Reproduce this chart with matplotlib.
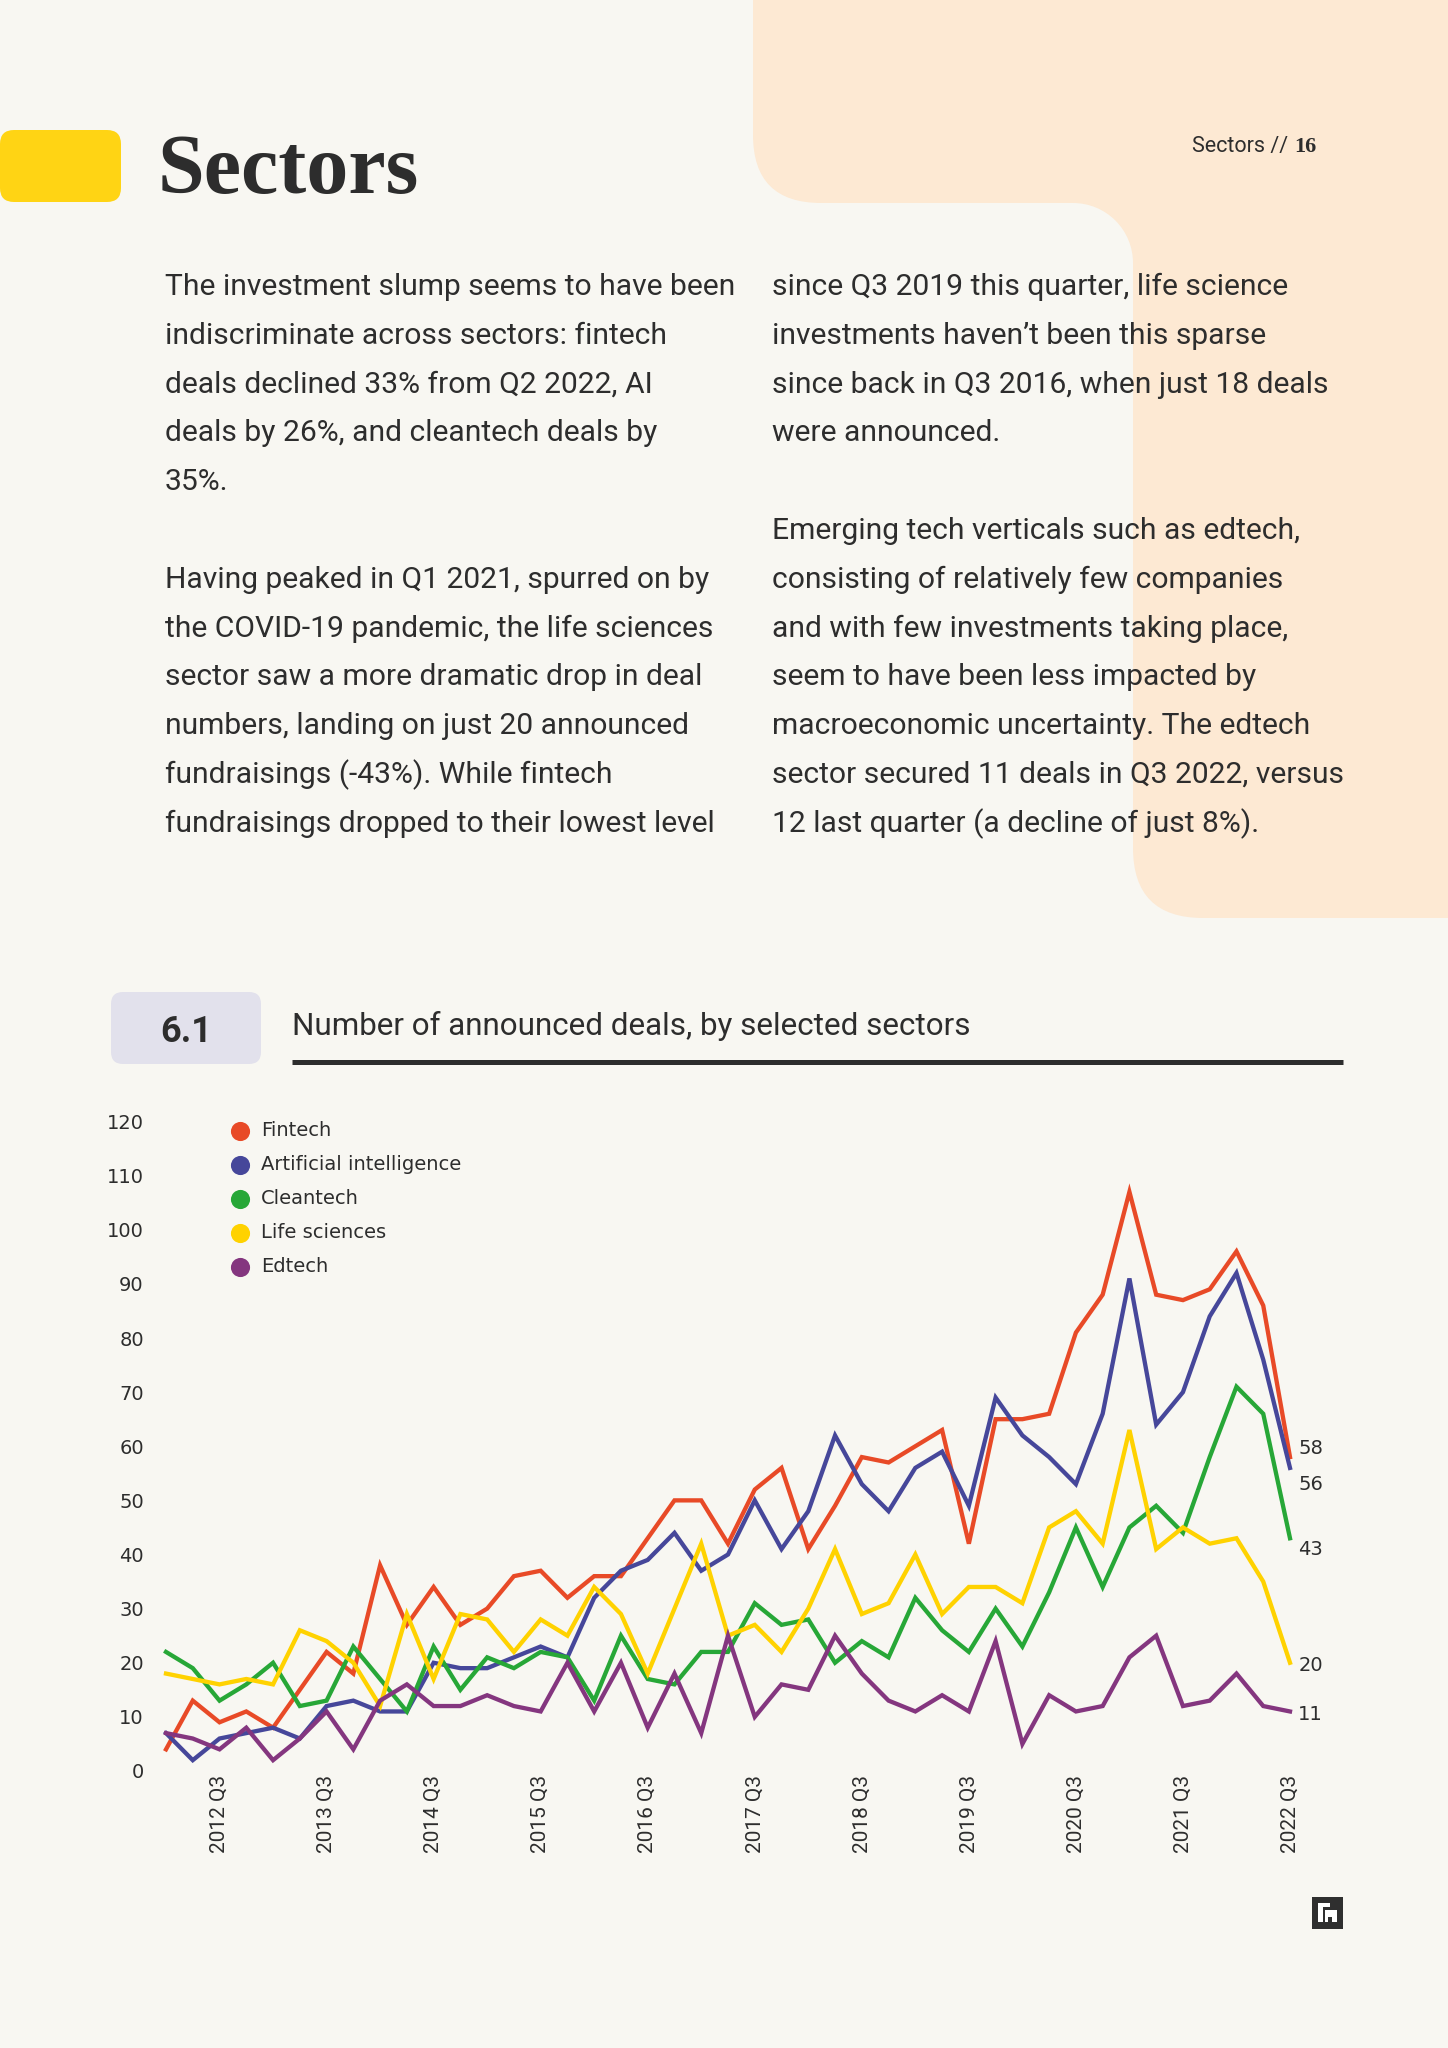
import numpy as np
import matplotlib
matplotlib.use("Agg")
from matplotlib import pyplot as plt
from matplotlib import font_manager
from matplotlib.patches import FancyBboxPatch, Rectangle, Circle


quarters = [f"{y} Q{q}" for y in range(2012, 2023) for q in range(1, 5)][:43]

fintech = [4, 13, 9, 11, 8, 15, 22, 18, 38, 27, 34, 27, 30, 36, 37, 32, 36,
           36, 43, 50, 50, 42, 52, 56, 41, 49, 58, 57, 60, 63, 42, 65,
           65, 66, 81, 88, 107, 88, 87, 89, 96, 86, 58]
ai = [7, 2, 6, 7, 8, 6, 12, 13, 11, 11, 20, 19, 19, 21, 23, 21, 32,
      37, 39, 44, 37, 40, 50, 41, 48, 62, 53, 48, 56, 59, 49, 69,
      62, 58, 53, 66, 91, 64, 70, 84, 92, 76, 56]
cleantech = [22, 19, 13, 16, 20, 12, 13, 23, 17, 11, 23, 15, 21, 19, 22, 21, 13,
             25, 17, 16, 22, 22, 31, 27, 28, 20, 24, 21, 32, 26, 22, 30,
             23, 33, 45, 34, 45, 49, 44, 58, 71, 66, 43]
life_sciences = [18, 17, 16, 17, 16, 26, 24, 20, 12, 29, 17, 29, 28, 22, 28, 25, 34,
                 29, 18, 30, 42, 25, 27, 22, 30, 41, 29, 31, 40, 29, 34, 34,
                 31, 45, 48, 42, 63, 41, 45, 42, 43, 35, 20]
edtech = [7, 6, 4, 8, 2, 6, 11, 4, 13, 16, 12, 12, 14, 12, 11, 20, 11,
          20, 8, 18, 7, 25, 10, 16, 15, 25, 18, 13, 11, 14, 11, 24,
          5, 14, 11, 12, 21, 25, 12, 13, 18, 12, 11]

series_names = ["Fintech", "Artificial intelligence", "Cleantech", "Life sciences", "Edtech"]
series_values = [fintech, ai, cleantech, life_sciences, edtech]
series_colors = ["#e84a27", "#46479a", "#27a737", "#ffd200", "#84367f"]
# end label nudges (points), to keep the last-value labels apart
end_label_dy = [6, -12, -8, -2, -2]

left_lines = [
    "The investment slump seems to have been",
    "indiscriminate across sectors: fintech",
    "deals declined 33% from Q2 2022, AI",
    "deals by 26%, and cleantech deals by",
    "35%.",
    "",
    "Having peaked in Q1 2021, spurred on by",
    "the COVID-19 pandemic, the life sciences",
    "sector saw a more dramatic drop in deal",
    "numbers, landing on just 20 announced",
    "fundraisings (-43%). While fintech",
    "fundraisings dropped to their lowest level",
]
right_lines = [
    "since Q3 2019 this quarter, life science",
    "investments haven\u2019t been this sparse",
    "since back in Q3 2016, when just 18 deals",
    "were announced.",
    "",
    "Emerging tech verticals such as edtech,",
    "consisting of relatively few companies",
    "and with few investments taking place,",
    "seem to have been less impacted by",
    "macroeconomic uncertainty. The edtech",
    "sector secured 11 deals in Q3 2022, versus",
    "12 last quarter (a decline of just 8%).",
]

BG = "#f8f7f2"
PEACH = "#fde9d3"
INK = "#2d2d2d"

available = {f.name for f in font_manager.fontManager.ttflist}
body_font = "Roboto" if "Roboto" in available else "DejaVu Sans"
chart_font = "DejaVu Sans"
title_font = "Liberation Serif" if "Liberation Serif" in available else "DejaVu Serif"

fig = plt.figure(figsize=(14.48, 20.48), dpi=100, facecolor=BG)

# page layer in pixel coordinates (y down)
page = fig.add_axes([0, 0, 1, 1])
page.set_xlim(0, 1448)
page.set_ylim(2048, 0)
page.axis("off")

page.add_patch(FancyBboxPatch((753, -200), 900, 403,
                              boxstyle="round,pad=0,rounding_size=68", fc=PEACH, ec="none"))
page.add_patch(FancyBboxPatch((1133, -200), 500, 1118,
                              boxstyle="round,pad=0,rounding_size=70", fc=PEACH, ec="none"))
page.add_patch(Rectangle((1073, 203), 60, 60, fc=PEACH, ec="none"))
page.add_patch(Circle((1073, 263), 60, fc=BG, ec="none"))

# header
page.add_patch(FancyBboxPatch((0, 130), 121, 72,
                              boxstyle="round,pad=0,rounding_size=14", fc="#ffd414", ec="none"))
page.text(158, 193, "Sectors", fontsize=60.5, fontweight="bold", family=title_font,
          color=INK, va="baseline")
page.text(1288, 152, "Sectors //", fontsize=15.5, family=body_font, color=INK,
          ha="right", va="baseline")
page.text(1317, 152, "16", fontsize=16, family=title_font, fontweight="bold",
          color=INK, ha="right", va="baseline")

for k, line in enumerate(left_lines):
    page.text(165, 295 + 48.8 * k, line, fontsize=21.6, family=body_font,
              color=INK, va="baseline")
for k, line in enumerate(right_lines):
    page.text(772, 295 + 48.8 * k, line, fontsize=21.6, family=body_font,
              color=INK, va="baseline")

# chart header
page.add_patch(FancyBboxPatch((111, 992), 150, 72,
                              boxstyle="round,pad=0,rounding_size=12", fc="#e2e1ec", ec="none"))
page.text(186, 1042, "6.1", fontsize=26, fontweight="bold", family=body_font,
          color=INK, ha="center", va="baseline")
page.text(292, 1035, "Number of announced deals, by selected sectors", fontsize=22.6,
          family=body_font, color=INK, va="baseline")
page.plot([292, 1343], [1062, 1062], color=INK, lw=3.6, solid_capstyle="butt")

# legend
for k, (name, color) in enumerate(zip(series_names, series_colors)):
    yy = 1131 + 34 * k
    page.scatter([240], [yy], s=190, color=color, linewidths=0)
    page.text(261, yy, name, fontsize=14, family=chart_font, color=INK, va="center")

# logo
page.add_patch(Rectangle((1312, 1897), 31, 32, fc="#2f2f2f", ec="none"))
page.add_patch(Rectangle((1318, 1903), 12, 4, fc="white", ec="none"))
page.add_patch(Rectangle((1318, 1903), 4.5, 19, fc="white", ec="none"))
page.add_patch(Rectangle((1325, 1910), 12, 12, fc="white", ec="none"))
page.add_patch(Rectangle((1328, 1916.5), 3.5, 5.5, fc="#2f2f2f", ec="none"))

# chart
ax = fig.add_axes([166 / 1448, 1 - 1771 / 2048, (1290 - 166) / 1448, (1771 - 1121.5) / 2048])
ax.patch.set_alpha(0)
x = np.arange(len(quarters))
for name, vals, color, dy in zip(series_names, series_values, series_colors, end_label_dy):
    ax.plot(x, vals, color=color, lw=3.1, solid_joinstyle="miter", clip_on=False, label=name)
    ax.annotate(str(vals[-1]), (x[-1], vals[-1]), xytext=(6, dy), textcoords="offset points",
                fontsize=14, family=chart_font, color=INK, ha="left", va="center")

ax.set_xlim(0, len(quarters) - 1)
ax.set_ylim(0, 120)
ax.set_yticks(range(0, 121, 10))
ax.set_xticks(x[2::4])
ax.set_xticklabels(quarters[2::4], rotation=90, family=body_font)
for lab in ax.get_yticklabels():
    lab.set_family(chart_font)
ax.tick_params(length=0, labelsize=14, colors=INK)
ax.tick_params(axis="x", labelsize=15, pad=3)
ax.tick_params(axis="y", pad=16)
for s in ax.spines.values():
    s.set_visible(False)

fig.savefig("out.png", dpi=100, facecolor=BG)
